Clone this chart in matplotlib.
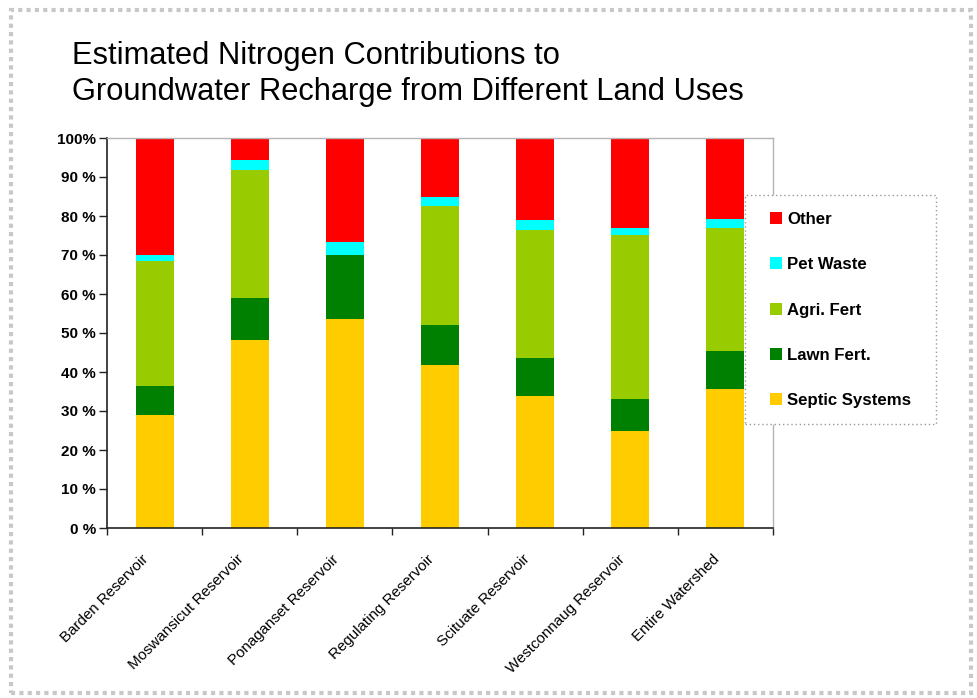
import matplotlib
matplotlib.use("Agg")
import matplotlib.pyplot as plt
import matplotlib.transforms as mtransforms
from matplotlib.patches import Rectangle, Patch
import numpy as np

plt.rcParams['font.family'] = ['Liberation Sans', 'DejaVu Sans']

# Share of nitrogen contribution (%) by land use, per reservoir
categories = ["Barden Reservoir", "Moswansicut Reservoir", "Ponaganset Reservoir",
              "Regulating Reservoir", "Scituate Reservoir", "Westconnaug Reservoir",
              "Entire Watershed"]
septic = [28.9, 48.3, 53.6, 41.7, 33.8, 24.8, 35.7]
lawn = [7.6, 10.8, 16.5, 10.3, 9.9, 8.4, 9.6]
agri = [31.9, 32.8, 0.0, 30.6, 32.8, 42.0, 31.6]
pet = [1.7, 2.5, 3.2, 2.3, 2.6, 1.6, 2.4]
other = [29.9, 5.6, 26.7, 15.1, 20.9, 23.2, 20.7]

series_names = ["Septic Systems", "Lawn Fert.", "Agri. Fert", "Pet Waste", "Other"]
series_values = [septic, lawn, agri, pet, other]
series_colors = ["#FFCC00", "#008000", "#99CC00", "#00FFFF", "#FF0000"]

y_ticks = list(range(0, 101, 10))
y_tick_labels = [f"{v} %" if v < 100 else f"{v}%" for v in y_ticks]

W, H = 977, 698
fig = plt.figure(figsize=(W / 100, H / 100), dpi=100)

# outer dotted frame
fig.patches.append(Rectangle((11 / W, 1 - 693 / H), (971 - 11) / W, (693 - 10) / H,
                             transform=fig.transFigure, fill=False,
                             edgecolor="#c8c8c8", linewidth=3, linestyle=(0, (1, 1))))

ax = fig.add_axes([107 / W, 1 - 528 / H, 666 / W, 390 / H])
x = np.arange(len(categories))
bottom = np.zeros(len(categories))
for name, vals, col in zip(series_names, series_values, series_colors):
    ax.bar(x, vals, bottom=bottom, width=0.4, color=col, label=name, linewidth=0)
    bottom += np.array(vals)

ax.set_xlim(-0.5, len(categories) - 0.5)
ax.set_ylim(0, 100)
ax.set_yticks(y_ticks)
ax.set_yticklabels(y_tick_labels, fontsize=11, fontweight="bold")
ax.tick_params(axis="y", direction="out", length=6, width=1, pad=2, color="#222222")

ax.set_xticks(x)
ax.set_xticks(np.arange(-0.5, len(categories)), minor=True)
ax.tick_params(axis="x", which="major", length=0, pad=21)
ax.tick_params(axis="x", which="minor", direction="out", length=5, width=1, color="#222222")
ax.set_xticklabels(categories, fontsize=10.9, rotation=45, ha="right", va="center",
                   rotation_mode="anchor")
offset = mtransforms.ScaledTranslation(-8 / 100, 0, fig.dpi_scale_trans)
for lbl in ax.get_xticklabels():
    lbl.set_transform(lbl.get_transform() + offset)

for side in ("top", "right"):
    ax.spines[side].set_color("#b4b4b4")
    ax.spines[side].set_linewidth(1)
for side in ("left", "bottom"):
    ax.spines[side].set_color("#222222")
    ax.spines[side].set_linewidth(1.2)

# title
fig.text(72 / W, 1 - 64 / H, "Estimated Nitrogen Contributions to", fontsize=22.2,
         va="baseline", ha="left")
fig.text(72 / W, 1 - 100 / H, "Groundwater Recharge from Different Land Uses", fontsize=22.2,
         va="baseline", ha="left")

# legend with dotted box
fig.patches.append(Rectangle((745 / W, 1 - 424 / H), (936 - 745) / W, (424 - 195) / H,
                             transform=fig.transFigure, facecolor="white",
                             edgecolor="#999999", linewidth=1, linestyle=(0, (1, 2)),
                             zorder=3))
handles = [Patch(facecolor=c, edgecolor="none") for c in series_colors][::-1]
leg = fig.legend(handles, series_names[::-1], loc="upper left",
                 bbox_to_anchor=(770 / W, 1 - 212 / H), frameon=False,
                 prop={"size": 12.1, "weight": "bold"}, borderpad=0, borderaxespad=0,
                 handlelength=0.72, handleheight=0.72, handletextpad=0.3,
                 labelspacing=1.8)
leg.set_zorder(4)

fig.savefig("out.png", dpi=100)
